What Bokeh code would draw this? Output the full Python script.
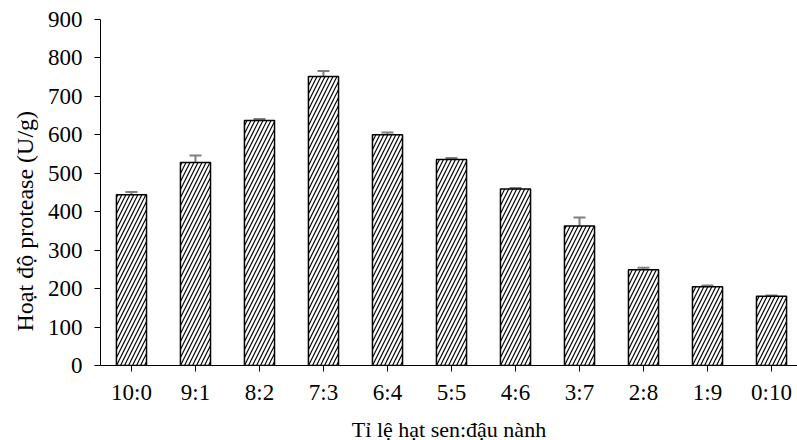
import numpy as np
from bokeh.plotting import figure
from bokeh.models import ColumnDataSource, Range1d, FixedTicker, Whisker, TeeHead, Title
from bokeh.embed import file_html
from bokeh.resources import INLINE

categories = ["10:0", "9:1", "8:2", "7:3", "6:4", "5:5", "4:6", "3:7", "2:8", "1:9", "0:10"]
activity = [444, 528, 637, 752, 600, 536, 459, 363, 249, 205, 180]
errors = [7, 18, 4, 14, 6, 4, 3, 22, 5, 3, 2]
y_ticks = [0, 100, 200, 300, 400, 500, 600, 700, 800, 900]

xs = list(range(len(categories)))
src = ColumnDataSource(dict(
    x=xs, top=activity,
    upper=[a + e for a, e in zip(activity, errors)],
    lower=[a - e for a, e in zip(activity, errors)],
))

FONT = "Liberation Serif"

p = figure(frame_width=697, frame_height=346, output_backend="svg",
           toolbar_location=None, x_range=Range1d(-0.484, 10.406),
           y_range=Range1d(0, 900),
           min_border_left=100, min_border_right=0, min_border_top=19,
           min_border_bottom=72)
p.outline_line_color = None
p.grid.visible = False

p.vbar(x="x", top="top", width=0.47, source=src, fill_color="white",
       line_color="black", line_width=1.5, hatch_pattern="/",
       hatch_color="black", hatch_scale=8, hatch_weight=1.2)

w = Whisker(source=src, base="x", upper="upper", lower="lower",
            line_color="#7f7f7f", line_width=2,
            upper_head=TeeHead(size=12, line_color="#7f7f7f", line_width=2),
            lower_head=TeeHead(size=12, line_color="#7f7f7f", line_width=2))
p.add_layout(w)

p.xaxis.ticker = FixedTicker(ticks=xs)
p.xaxis.major_label_overrides = {i: c for i, c in enumerate(categories)}
p.yaxis.ticker = FixedTicker(ticks=y_ticks)
p.xaxis.minor_tick_line_color = None
p.yaxis.minor_tick_line_color = None

for ax in (p.xaxis[0], p.yaxis[0]):
    ax.axis_line_color = "black"
    ax.axis_line_width = 1
    ax.major_tick_line_color = "black"
    ax.major_tick_in = 0
    ax.major_tick_out = 6
    ax.major_label_text_font = FONT
    ax.major_label_text_font_size = "23px"
    ax.major_label_text_color = "black"
    ax.axis_label_text_font = FONT
    ax.axis_label_text_font_size = "22px"
    ax.axis_label_text_font_style = "normal"
    ax.axis_label_text_color = "black"

p.xaxis.axis_label = "Tỉ lệ hạt sen:đậu nành"
p.xaxis.major_label_standoff = 8
p.yaxis.major_label_standoff = 12
p.xaxis.axis_label_standoff = 9

ytitle = Title(text="Hoạt độ protease (U/g)", align="left", offset=34,
               text_font=FONT, text_font_size="24px", text_font_style="normal",
               text_color="black", standoff=13)
p.add_layout(ytitle, "left")

open("out.html", "w").write(file_html(p, INLINE))
